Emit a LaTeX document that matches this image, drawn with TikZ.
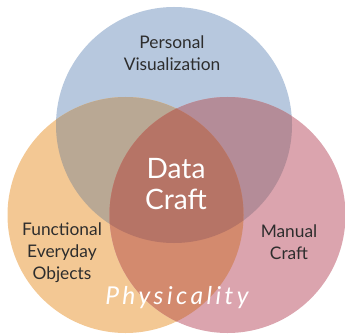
\documentclass[tikz,border=0pt]{standalone}
\usepackage{fontspec}
\setmainfont{Lato}
\usepackage{tikz}
\definecolor{cblue}{RGB}{183, 200, 222}
\definecolor{corange}{RGB}{243, 200, 148}
\definecolor{cpink}{RGB}{219, 164, 174}
\definecolor{cblueorange}{RGB}{185, 168, 148}
\definecolor{cbluepink}{RGB}{180, 140, 152}
\definecolor{corangepink}{RGB}{211, 138, 110}
\definecolor{ccenter}{RGB}{182, 116, 102}
\definecolor{ctext}{RGB}{45, 45, 45}

\begin{document}
\begin{tikzpicture}[
    x = 0.03cm, y = 0.03cm,
    lbl/.style = {align = center, text = ctext, font = \fontsize{14.8}{18.8}\selectfont},
    big/.style = {align = center, text = white, font = \fontsize{24}{27}\selectfont},
]
\useasboundingbox (0,0) rectangle (345,334);
\clip (0,0) rectangle (345,334);
\def\topc{(174,209) circle (118)}
\def\leftc{(125.5,119) circle (118)}
\def\rightc{(227.5,119) circle (118)}

\fill[cblue] \topc;
\fill[corange] \leftc;
\fill[cpink] \rightc;
\begin{scope} \clip \topc; \fill[cblueorange] \leftc; \end{scope}
\begin{scope} \clip \topc; \fill[cbluepink] \rightc; \end{scope}
\begin{scope} \clip \leftc; \fill[corangepink] \rightc; \end{scope}
\begin{scope} \clip \topc; \clip \leftc; \fill[ccenter] \rightc; \end{scope}

\node[lbl] (personal) at (172,281) {Personal\\Visualization};
\node[big] (datacraft) at (176,150) {Data\\Craft};
\node[lbl] (functional) at (62,81) {Functional\\Everyday\\Objects};
\node[lbl] (manual) at (289,92) {Manual\\Craft};
\node[text = white, font = \fontsize{21}{23}\selectfont\itshape\addfontfeatures{LetterSpace=14}] (physicality) at (177,36) {Physicality};
\end{tikzpicture}
\end{document}
